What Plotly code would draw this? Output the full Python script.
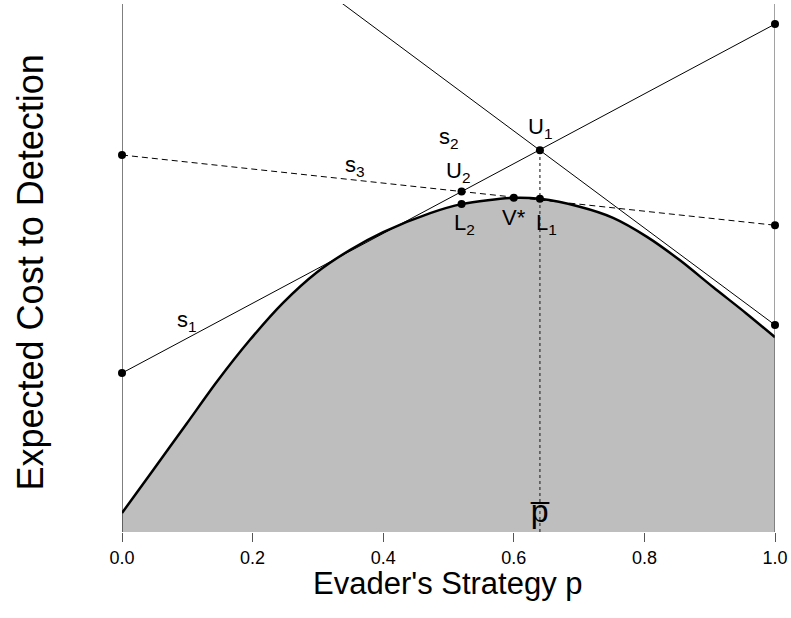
import plotly.graph_objects as go

# ---- data ----
p_curve = [0.0, 0.0475, 0.0995, 0.1455, 0.196, 0.2466, 0.2986, 0.349, 0.40, 0.472,
           0.52, 0.60, 0.64, 0.701, 0.752, 0.804, 0.854, 0.905, 0.956, 1.0]
cost_curve = [3.6, 11.7, 20.6, 28.5, 36.4, 43.4, 49.2, 53.4, 56.8, 60.4,
              62.1, 63.3, 63.1, 61.6, 59.5, 55.9, 51.5, 46.4, 41.4, 36.9]

line_p = [0.0, 1.0]
s1_cost = [30.1, 96.2]
s2_cost = [131.1, 39.2]
s3_cost = [71.4, 58.1]

p_bar = 0.64
U1 = (0.64, 72.3)
U2 = (0.52, 64.5)
L1 = (0.64, 63.1)
L2 = (0.52, 62.1)
Vstar = (0.60, 63.3)

y_range = [0, 100]
tick_vals = [0.0, 0.2, 0.4, 0.6, 0.8, 1.0]
tick_text = ["0.0", "0.2", "0.4", "0.6", "0.8", "1.0"]

# label anchor positions (data units)
labels = [
    ("s<sub>1</sub>", 0.0995, 40.0),
    ("s<sub>2</sub>", 0.500, 74.6),
    ("s<sub>3</sub>", 0.357, 69.4),
    ("U<sub>1</sub>", 0.64, 76.5),
    ("U<sub>2</sub>", 0.515, 68.1),
    ("L<sub>2</sub>", 0.525, 58.4),
    ("V*", 0.600, 59.5),
    ("L<sub>1</sub>", 0.650, 58.4),
]

FONT = "Liberation Sans, Arial, sans-serif"

fig = go.Figure()

# shaded region under the curve
fig.add_trace(go.Scatter(x=p_curve, y=cost_curve, mode="lines",
                         line=dict(color="black", width=2.5, shape="spline", smoothing=0.8),
                         fill="tozeroy", fillcolor="#BEBEBE", hoverinfo="skip"))

# boundary verticals at p=0 and p=1
for xv, col in [(line_p[0], "black"), (line_p[1], "#444444")]:
    fig.add_trace(go.Scatter(x=[xv, xv], y=y_range, mode="lines",
                             line=dict(color=col, width=1), hoverinfo="skip"))

# strategy lines
fig.add_trace(go.Scatter(x=line_p, y=s1_cost, mode="lines", line=dict(color="black", width=1)))
fig.add_trace(go.Scatter(x=line_p, y=s2_cost, mode="lines", line=dict(color="black", width=1)))
fig.add_trace(go.Scatter(x=line_p, y=s3_cost, mode="lines",
                         line=dict(color="black", width=1, dash="6px,4px")))

# dotted vertical at p-bar
fig.add_trace(go.Scatter(x=[p_bar, p_bar], y=[y_range[0], U1[1]], mode="lines",
                         line=dict(color="#333333", width=1.2, dash="dot")))

# points
pts_x = [line_p[0], line_p[0], line_p[1], line_p[1], line_p[1],
         U1[0], U2[0], L1[0], L2[0], Vstar[0]]
pts_y = [s1_cost[0], s3_cost[0], s1_cost[1], s3_cost[1], s2_cost[1],
         U1[1], U2[1], L1[1], L2[1], Vstar[1]]
fig.add_trace(go.Scatter(x=pts_x, y=pts_y, mode="markers", cliponaxis=False,
                         marker=dict(color="black", size=8)))

for txt, lx, ly in labels:
    fig.add_annotation(x=lx, y=ly, text=txt, showarrow=False,
                       font=dict(family=FONT, size=22, color="black"),
                       xanchor="center", yanchor="middle")

fig.add_annotation(x=p_bar, y=4.0, text="p\u0305", showarrow=False,
                   font=dict(family=FONT, size=32, color="black"),
                   xanchor="center", yanchor="middle")

# axis titles
fig.add_annotation(xref="paper", yref="paper", x=0.4985, y=-0.098,
                   text="Evader's Strategy p", showarrow=False,
                   font=dict(family=FONT, size=31, color="black"),
                   xanchor="center", yanchor="middle")
fig.add_annotation(xref="paper", yref="paper", x=-0.1405, y=0.492,
                   text="Expected Cost to Detection", showarrow=False, textangle=-90,
                   font=dict(family=FONT, size=36, color="black"),
                   xanchor="center", yanchor="middle")

fig.update_layout(
    width=791, height=618,
    margin=dict(l=122, r=16, t=4, b=86),
    paper_bgcolor="white", plot_bgcolor="white",
    showlegend=False,
    xaxis=dict(range=[0, 1], tickvals=tick_vals, ticktext=tick_text,
               ticks="outside", ticklen=9, tickcolor="#555555", tickwidth=1,
               showgrid=False, zeroline=False, showline=False,
               tickfont=dict(family=FONT, size=18, color="black")),
    yaxis=dict(range=y_range, visible=False, showgrid=False, zeroline=False),
)

fig.write_html("out.html", config={"displayModeBar": False},
               post_script="document.body.style.margin='0px';document.body.style.overflow='hidden';")
